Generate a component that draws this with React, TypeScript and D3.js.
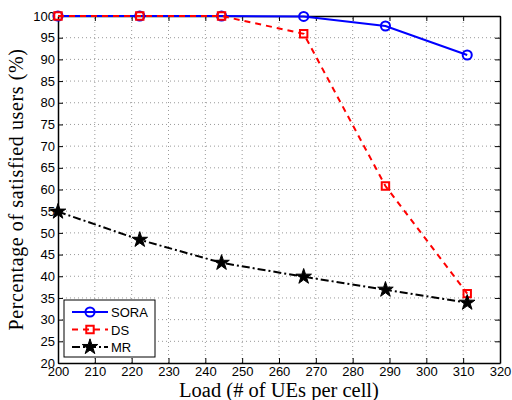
import React, { useRef, useEffect } from "react";
import * as d3 from "d3";

const loads = [200, 222.2, 244.4, 266.7, 288.9, 311.1];
const sora = [100, 100, 100, 99.9, 97.7, 91.0];
const ds = [100, 100, 100, 95.9, 60.8, 36.0];
const mr = [54.9, 48.4, 43.1, 39.9, 36.9, 33.9];
const xTicks = [200, 210, 220, 230, 240, 250, 260, 270, 280, 290, 300, 310, 320];
const yTicks = [20, 25, 30, 35, 40, 45, 50, 55, 60, 65, 70, 75, 80, 85, 90, 95, 100];

const series = [
  { name: "SORA", values: sora, color: "#0000ff", dash: "none", marker: "circle" },
  { name: "DS", values: ds, color: "#ff0000", dash: "6,5", marker: "square" },
  { name: "MR", values: mr, color: "#000000", dash: "8,3,2,3", marker: "star" },
];

function App() {
  const ref = useRef<SVGSVGElement>(null);

  useEffect(() => {
    const width = 512;
    const height = 400;
    const margin = { top: 16, right: 12, bottom: 37, left: 58 };
    const svg = d3.select(ref.current);
    svg.selectAll("*").remove();

    const x = d3.scaleLinear().domain([200, 320]).range([margin.left, width - margin.right]);
    const y = d3.scaleLinear().domain([20, 100]).range([height - margin.bottom, margin.top]);

    svg.append("rect").attr("width", width).attr("height", height).attr("fill", "#fff");

    // grid
    const grid = svg.append("g").attr("stroke", "#999").attr("stroke-width", 1).attr("stroke-dasharray", "1,3");
    grid.selectAll(".gx").data(xTicks.slice(1, -1)).join("line")
      .attr("x1", (d) => x(d)).attr("x2", (d) => x(d))
      .attr("y1", y(20)).attr("y2", y(100));
    grid.selectAll(".gy").data(yTicks.slice(1, -1)).join("line")
      .attr("x1", x(200)).attr("x2", x(320))
      .attr("y1", (d) => y(d)).attr("y2", (d) => y(d));

    // axes box with inward ticks
    const axes = svg.append("g");
    axes.append("g").attr("transform", `translate(0,${y(20)})`)
      .call(d3.axisBottom(x).tickValues(xTicks).tickSizeInner(-5).tickSizeOuter(0).tickPadding(4));
    axes.append("g").attr("transform", `translate(0,${y(100)})`)
      .call(d3.axisTop(x).tickValues(xTicks).tickSizeInner(-5).tickSizeOuter(0).tickFormat(() => ""));
    axes.append("g").attr("transform", `translate(${x(200)},0)`)
      .call(d3.axisLeft(y).tickValues(yTicks).tickSizeInner(-5).tickSizeOuter(0).tickPadding(3));
    axes.append("g").attr("transform", `translate(${x(320)},0)`)
      .call(d3.axisRight(y).tickValues(yTicks).tickSizeInner(-5).tickSizeOuter(0).tickFormat(() => ""));
    axes.selectAll(".domain").attr("stroke", "#000").attr("stroke-width", 1.5);
    axes.selectAll(".tick line").attr("stroke", "#000");
    axes.selectAll(".tick text")
      .attr("font-family", "'Liberation Sans', Arial, sans-serif")
      .attr("font-size", 13)
      .attr("fill", "#000");

    const shapes: Record<string, any> = {
      star: d3.symbol().type(d3.symbolStar).size(75),
      square: d3.symbol().type(d3.symbolSquare).size(55),
      circle: d3.symbol().type(d3.symbolCircle).size(65),
    };

    const drawMarker = (g: any, marker: string, color: string, px: number, py: number) => {
      g.append("path")
        .attr("d", shapes[marker]())
        .attr("transform", `translate(${px},${py})`)
        .attr("fill", marker === "star" ? "#000" : "none")
        .attr("stroke", color)
        .attr("stroke-width", marker === "star" ? 1 : 2);
    };

    const line = d3.line<number>().x((_, i) => x(loads[i])).y((d) => y(d));

    series.forEach((s) => {
      const g = svg.append("g");
      g.append("path")
        .attr("d", line(s.values))
        .attr("fill", "none")
        .attr("stroke", s.color)
        .attr("stroke-width", 2)
        .attr("stroke-dasharray", s.dash);
      s.values.forEach((v, i) => drawMarker(g, s.marker, s.color, x(loads[i]), y(v)));
    });

    // legend
    const lg = svg.append("g").attr("transform", "translate(64,300)");
    lg.append("rect").attr("width", 91).attr("height", 57).attr("fill", "#fff").attr("stroke", "#000").attr("stroke-width", 1);
    series.forEach((s, i) => {
      const ly = 12 + i * 17.5;
      lg.append("line")
        .attr("x1", 8).attr("x2", 44).attr("y1", ly).attr("y2", ly)
        .attr("stroke", s.color).attr("stroke-width", 2).attr("stroke-dasharray", s.dash);
      drawMarker(lg, s.marker, s.color, 26, ly);
      lg.append("text")
        .attr("x", 47).attr("y", ly + 5)
        .attr("font-family", "'Liberation Sans', Arial, sans-serif")
        .attr("font-size", 13)
        .text(s.name);
    });

    // axis titles
    svg.append("text")
      .attr("x", (x(200) + x(320)) / 2).attr("y", 397)
      .attr("text-anchor", "middle")
      .attr("font-family", "'Liberation Serif', 'Times New Roman', serif")
      .attr("font-size", 20.5)
      .text("Load (# of UEs per cell)");
    svg.append("text")
      .attr("transform", `translate(23,${(y(20) + y(100)) / 2}) rotate(-90)`)
      .attr("text-anchor", "middle")
      .attr("font-family", "'Liberation Serif', 'Times New Roman', serif")
      .attr("font-size", 20)
      .attr("letter-spacing", 0.6)
      .text("Percentage of satisfied users (%)");
  }, []);

  return (
    <svg ref={ref} width={512} height={400} style={{ position: "absolute", left: 0, top: 0 }} />
  );
}

export default App;
